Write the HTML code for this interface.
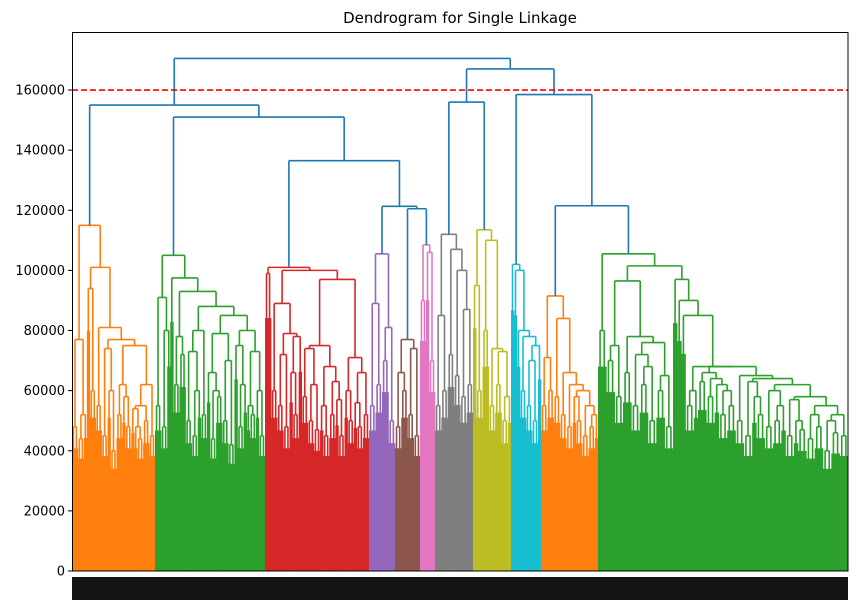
<!DOCTYPE html>
<html><head><meta charset="utf-8"><style>
html,body{margin:0;padding:0;background:#fff;}
svg{display:block;font-family:"DejaVu Sans","Liberation Sans",sans-serif;}
</style></head><body>
<svg id="chart" width="860" height="609" viewBox="0 0 860 609" xmlns="http://www.w3.org/2000/svg">
<rect x="0" y="0" width="860" height="609" fill="#fff"/>
<text x="460" y="23" text-anchor="middle" font-size="15" fill="#000">Dendrogram for Single Linkage</text>
<g id="marks"></g>
<g id="yaxis"></g>
<rect x="72" y="577" width="776" height="23" fill="#000" opacity="0.92"/>
<rect x="72.5" y="32.5" width="775.5" height="538.5" fill="none" stroke="#000" stroke-width="1"/>
</svg>
<script>
// Values in thousands
const yTicks = [0,20000,40000,60000,80000,100000,120000,140000,160000];
const cutHeight = 160000;
const clusterNames = ['O1','G1','R','P','Br','Pk','Gy','Ol','Cy','O2','G2'];
const clusterColors = ['#ff7f0e','#2ca02c','#d62728','#9467bd','#8c564b','#e377c2','#7f7f7f','#bcbd22','#17becf','#ff7f0e','#2ca02c'];
const clusterSpans = [[72,155],[155,265],[265,369],[369,395],[395,420],[420,435],[435,473],[473,511],[511,541],[541,598],[598,848]];
const gapsO1 = [48,77,44,52,115,94,60,101,55,81,45,74,60,40,77,52,62,58,48,75,54,48,44,55,50,62,45];
const gapsG1 = [55,91,48,80,105,97.5,62,78,72,93,50,73,45,60,80,52,88,66,44,60,58,79,50,70,42,85,75,48,62,80,55,52,73,60,45];
const gapsR = [99,101,60,89,55,72,48,79,66,52,78,100,58,74,50,62,47,75,55,45,68,52,63,57,45,97,60,50,71,56,48,66,52];
const gapsP = [55,89,62,105.5,70,81,50];
const gapsBr = [48,66,60,77,52,74,45];
const gapsPk = [90,108.5,106,70];
const gapsGy = [55,85,60,112,72,107,65,100,58,87,62];
const gapsOl = [95,60,113.5,80,110,55,74,62,73,50,58];
const gapsCy = [102,100,80,60,78,55,70,50,75];
const gapsO2 = [55,71,60,91.5,58,84,52,66,48,62,58,50,60,45,55,48,52];
const gapsG2 = [80,105.5,70,75,58,96.5,66,78,55,72,62,68,50,76,60,65,48,101.5,97,90,85,55,60,68,63,66,58,64,62,52,60,55,68,50,65,45,63,58,52,64,48,60,50,55,62,45,57,50,47,58,44,52,48,55,40,50,46,52,45];
const clusterGaps = [gapsO1,gapsG1,gapsR,gapsP,gapsBr,gapsPk,gapsGy,gapsOl,gapsCy,gapsO2,gapsG2];
// upper (blue) tree: [left, right, height]
const topTree = [[0,[1,[2,[3,[4,5,120.5],121.3],136.5],151],155],[[6,7,156],[8,[9,10,121.5],158.5],167],170.5];

const NS='http://www.w3.org/2000/svg';
const marks=document.getElementById('marks');
const Y0=571, YTOP=32, YMAX=179300;
function yS(v){return Y0-(v/YMAX)*(Y0-YTOP);}
function yK(k){return yS(k*1000);}
function line(x1,y1,x2,y2,c,name){
  const l=document.createElementNS(NS,'line');
  l.setAttribute('x1',x1);l.setAttribute('y1',y1);l.setAttribute('x2',x2);l.setAttribute('y2',y2);
  l.setAttribute('stroke',c);l.setAttribute('stroke-width','1.6');
  
  
  marks.appendChild(l);return l;
}
function link(a,b,H,c,name){
  line(a.x,yK(a.h),a.x,yK(H),c,name);
  line(a.x,yK(H),b.x,yK(H),c,name);
  line(b.x,yK(b.h),b.x,yK(H),c,name);
}
function buildCluster(ci){
  const g=clusterGaps[ci], span=clusterSpans[ci], col=clusterColors[ci];
  const n=g.length+1, w=(span[1]-span[0])/n;
  const lx=i=>span[0]+(i+0.5)*w;
  for(let i=0;i<n;i++){
    const a=i>0?g[i-1]:Infinity, b=i<g.length?g[i]:Infinity;
    const m=Math.min(a,b)*0.85;
    const r=document.createElementNS(NS,'rect');
    r.setAttribute('x',span[0]+i*w);r.setAttribute('width',w+0.3);
    r.setAttribute('y',yK(m));r.setAttribute('height',Y0-yK(m));
    r.setAttribute('fill',col);
    
    
    marks.appendChild(r);
  }
  function rec(lo,hi){
    if(lo===hi) return {x:lx(lo),h:0};
    let k=lo;for(let j=lo;j<hi;j++) if(g[j]>g[k]) k=j;
    const L=rec(lo,k), R=rec(k+1,hi);
    link(L,R,g[k],col,'cluster-link');
    return {x:(L.x+R.x)/2,h:g[k]};
  }
  return rec(0,n-1);
}
const tops=clusterNames.map((_,i)=>buildCluster(i));
function buildTop(node){
  if(typeof node==='number') return tops[node];
  const L=buildTop(node[0]), R=buildTop(node[1]);
  link(L,R,node[2],'#1f77b4','top-link');
  return {x:(L.x+R.x)/2,h:node[2]};
}
buildTop(topTree);
const cl=line(72,yS(cutHeight),848,yS(cutHeight),'#ff0000','cut-threshold-line');
cl.setAttribute('stroke-dasharray','6,3');
const ya=document.getElementById('yaxis');
yTicks.forEach(v=>{
  const y=yS(v);
  const t=document.createElementNS(NS,'line');
  t.setAttribute('x1',68);t.setAttribute('x2',72);t.setAttribute('y1',y);t.setAttribute('y2',y);
  t.setAttribute('stroke','#000');
  
  
  ya.appendChild(t);
  const tx=document.createElementNS(NS,'text');
  tx.setAttribute('x',65);tx.setAttribute('y',y+4.5);tx.setAttribute('text-anchor','end');
  tx.setAttribute('font-size','13');
  tx.textContent=String(v);
  
  
  ya.appendChild(tx);
});
</script>
</body></html>
